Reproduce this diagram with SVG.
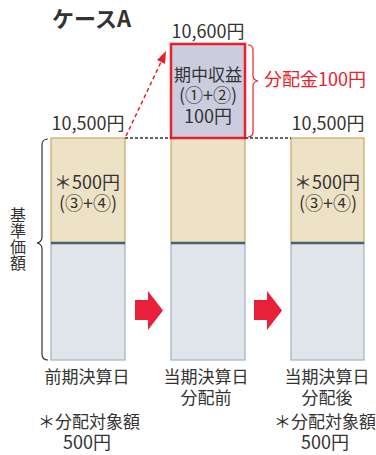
<svg xmlns="http://www.w3.org/2000/svg" width="376" height="455" viewBox="0 0 376 455">
<style>
text{font-family:"Noto Sans CJK JP","Noto Sans",sans-serif;fill:#333;}
.t{font-size:17px;text-anchor:middle;}
.n{font-size:18px;text-anchor:middle;}
.v{font-size:16px;writing-mode:vertical-rl;}
.r{fill:#e8202c;font-size:18px;}
.tan{fill:#ede2c6;stroke:#c8a868;stroke-width:1.2;}
.blue{fill:#dfe5eb;stroke:#9eb3c3;stroke-width:1.2;}
.sep{stroke:#4d5e6c;stroke-width:2.5;}
.arrow{fill:#e8203a;}
</style>
<rect width="376" height="455" fill="#fff"/>
<text x="52" y="27" style="font-size:22px;font-weight:bold;">ケースA</text>

<g id="bar-prev">
<rect class="tan" x="51" y="138" width="74" height="105"/>
<rect class="blue" x="51" y="243" width="74" height="117"/>
<line class="sep" x1="51" y1="243" x2="125" y2="243"/>
<text class="n" x="88" y="130">10,500円</text>
<text class="n" x="87" y="189">＊500円</text>
<text class="n" x="88" y="210">(③+④)</text>
</g>

<g id="bar-before">
<rect class="tan" x="171" y="138" width="74" height="105"/>
<rect class="blue" x="171" y="243" width="74" height="117"/>
<line class="sep" x1="171" y1="243" x2="245" y2="243"/>
<rect x="171" y="44" width="74" height="94" fill="#ccccdf" stroke="#e8202c" stroke-width="2.5"/>
<text class="n" x="208" y="38">10,600円</text>
<text class="t" x="208" y="81">期中収益</text>
<text class="n" x="208" y="102">(①+②)</text>
<text class="n" x="208" y="123">100円</text>
</g>

<g id="bar-after">
<rect class="tan" x="291" y="138" width="73" height="105"/>
<rect class="blue" x="291" y="243" width="73" height="117"/>
<line class="sep" x1="291" y1="243" x2="364" y2="243"/>
<text class="n" x="328" y="130">10,500円</text>
<text class="n" x="327" y="189">＊500円</text>
<text class="n" x="328" y="210">(③+④)</text>
</g>

<g id="distribution">
<path d="M248,45 Q253,45 253,50 L253,76 Q253,80 258,81 Q253,82 253,86 L253,132 Q253,137 248,137" fill="none" stroke="#e8202c" stroke-width="1.2"/>
<text class="r" x="264" y="86">分配金100円</text>
</g>

<g id="nav-label">
<path d="M48,139 Q42,139 42,145 L42,237 Q42,242 37,243 Q42,244 42,249 L42,354 Q42,360 48,360" fill="none" stroke="#333" stroke-width="1.2"/>
<text class="v" x="18" y="207">基準価額</text>
</g>

<g id="connectors">
<line x1="125" y1="138" x2="171" y2="138" stroke="#333" stroke-width="1.5" stroke-dasharray="3,2"/>
<line x1="245" y1="138" x2="291" y2="138" stroke="#333" stroke-width="1.5" stroke-dasharray="3,2"/>
<line x1="126" y1="136" x2="162" y2="60" stroke="#e8202c" stroke-width="1.5" stroke-dasharray="4,3"/>
<polygon points="166,51 165,64 157,60" fill="#e8202c"/>
<polygon class="arrow" points="135,300 148,300 148,291 163,310.5 148,330 148,320 135,320"/>
<polygon class="arrow" points="254,300 267,300 267,291 282,310.5 267,330 267,320 254,320"/>
</g>

<g id="labels">
<text class="t" x="87" y="383">前期決算日</text>
<text class="t" x="206" y="383">当期決算日</text>
<text class="t" x="206" y="404">分配前</text>
<text class="t" x="327" y="383">当期決算日</text>
<text class="t" x="327" y="404">分配後</text>
<text class="t" x="89" y="428">＊分配対象額</text>
<text class="n" x="87" y="449">500円</text>
<text class="t" x="325" y="428">＊分配対象額</text>
<text class="n" x="325" y="449">500円</text>
</g>
</svg>
